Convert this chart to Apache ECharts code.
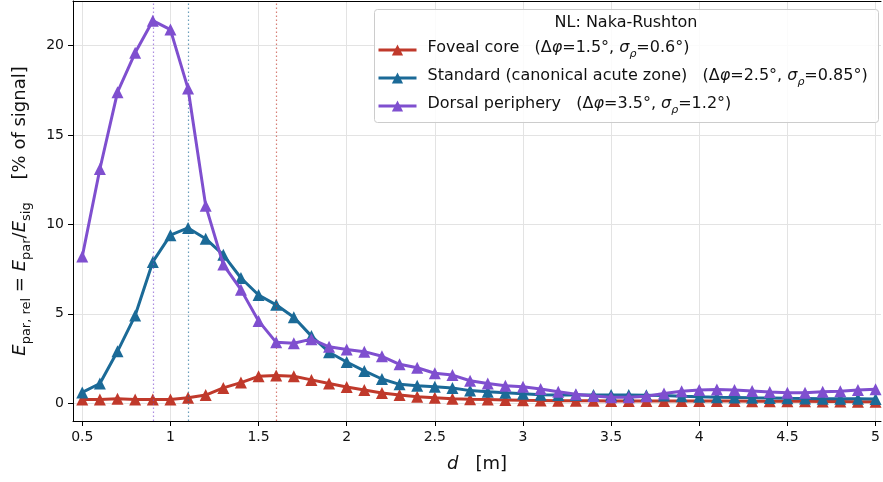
<!DOCTYPE html>
<html>
<head>
<meta charset="utf-8">
<script src="https://cdn.jsdelivr.net/npm/echarts@6/dist/echarts.min.js"></script>
<style>
  html, body { margin: 0; padding: 0; background: #fff; }
  #chart { width: 883px; height: 482px; }
</style>
</head>
<body>
<div id="chart"></div>
<script>
// distance d [m]
const dValues = [0.5, 0.6, 0.7, 0.8, 0.9, 1.0, 1.1, 1.2, 1.3, 1.4, 1.5, 1.6, 1.7, 1.8, 1.9, 2.0,
  2.1, 2.2, 2.3, 2.4, 2.5, 2.6, 2.7, 2.8, 2.9, 3.0, 3.1, 3.2, 3.3, 3.4, 3.5, 3.6, 3.7, 3.8, 3.9, 4.0,
  4.1, 4.2, 4.3, 4.4, 4.5, 4.6, 4.7, 4.8, 4.9, 5.0]

// E_par,rel in % of signal
const foveal = [0.2, 0.2, 0.25, 0.2, 0.2, 0.2, 0.3, 0.45, 0.85, 1.15, 1.5, 1.55, 1.5, 1.3, 1.1, 0.9,
  0.73, 0.57, 0.45, 0.36, 0.3, 0.25, 0.22, 0.2, 0.18, 0.16, 0.15, 0.14, 0.13, 0.13, 0.12, 0.12, 0.12, 0.12, 0.12, 0.12,
  0.12, 0.12, 0.11, 0.1, 0.1, 0.1, 0.09, 0.09, 0.08, 0.08]
const standard = [0.6, 1.1, 2.9, 4.9, 7.9, 9.4, 9.8, 9.2, 8.3, 7.0, 6.05, 5.5, 4.8, 3.75, 2.85, 2.3,
  1.8, 1.35, 1.05, 0.97, 0.91, 0.85, 0.7, 0.63, 0.58, 0.52, 0.47, 0.46, 0.45, 0.45, 0.45, 0.45, 0.44, 0.42, 0.38, 0.35,
  0.33, 0.32, 0.3, 0.29, 0.27, 0.26, 0.25, 0.24, 0.24, 0.23]
const dorsal = [8.2, 13.1, 17.4, 19.6, 21.4, 20.9, 17.6, 11.05, 7.75, 6.35, 4.6, 3.4, 3.35, 3.58, 3.15, 3.0,
  2.88, 2.62, 2.17, 1.98, 1.67, 1.57, 1.25, 1.1, 0.97, 0.91, 0.79, 0.64, 0.5, 0.4, 0.33, 0.33, 0.39, 0.54, 0.67, 0.73,
  0.76, 0.73, 0.68, 0.62, 0.58, 0.58, 0.63, 0.67, 0.73, 0.78]

// optimum distance per profile (dotted markers)
const peakD = [1.6, 1.1, 0.9]

const seriesNames = ['Foveal core', 'Standard (canonical acute zone)', 'Dorsal periphery']
const seriesParams = [['1.5', '0.6'], ['2.5', '0.85'], ['3.5', '1.2']]
const colors = ['#c0392b', '#1b6a97', '#7f4fcf']

const xTicks = [0.5, 1, 1.5, 2, 2.5, 3, 3.5, 4, 4.5, 5]
const yTicks = [0, 5, 10, 15, 20]

const font = 'DejaVu Sans'
const chart = echarts.init(document.getElementById('chart'))

function makeSeries (i, values) {
  return {
    name: seriesNames[i],
    type: 'line',
    data: dValues.map((d, k) => [d, values[k]]),
    symbol: 'triangle',
    symbolSize: 12,
    lineStyle: { width: 3, color: colors[i] },
    itemStyle: { color: colors[i] },
    z: 3 + i,
    animation: false,
    markLine: {
      silent: true,
      symbol: 'none',
      label: { show: false },
      lineStyle: { type: [1.5, 2.5], width: 1.2, color: colors[i], opacity: 0.65 },
      data: [{ xAxis: peakD[i] }]
    }
  }
}

const legendRich = {
  t: { fontFamily: font, fontSize: 16, color: '#111', verticalAlign: 'bottom', padding: [0, 0, 4, 0] },
  i: { fontFamily: font, fontSize: 16, color: '#111', fontStyle: 'italic', verticalAlign: 'bottom', padding: [0, 0, 4, 0] },
  s: { fontFamily: font, fontSize: 11, color: '#111', fontStyle: 'italic', verticalAlign: 'bottom' }
}

const axisRich = {
  e: { fontFamily: font, fontSize: 18, color: '#111', fontStyle: 'italic', verticalAlign: 'bottom', padding: [0, 0, 4, 0] },
  n: { fontFamily: font, fontSize: 18, color: '#111', verticalAlign: 'bottom', padding: [0, 0, 4, 0] },
  s: { fontFamily: font, fontSize: 13, color: '#111', verticalAlign: 'bottom' }
}

const option = {
  backgroundColor: '#fff',
  animation: false,
  grid: { left: 73, right: 0, top: 1, bottom: 61 },
  xAxis: [
    {
      type: 'value',
      min: 0.4474,
      max: 5.031,
      name: '{e|d}{n|   [m]}',
      nameLocation: 'middle',
      nameGap: 34,
      nameTextStyle: { rich: axisRich },
      axisLine: { onZero: false, lineStyle: { color: '#000', width: 1 } },
      axisTick: { customValues: xTicks, length: 5, lineStyle: { color: '#000' } },
      axisLabel: { customValues: xTicks, margin: 9, fontFamily: font, fontSize: 14, color: '#111' },
      splitLine: { show: true, lineStyle: { color: '#e3e3e3', width: 1 } }
    },
    {
      type: 'value',
      position: 'top',
      min: 0.4474,
      max: 5.031,
      axisLine: { show: true, onZero: false, lineStyle: { color: '#000', width: 1 } },
      axisTick: { show: false },
      axisLabel: { show: false },
      splitLine: { show: false }
    }
  ],
  yAxis: {
    type: 'value',
    min: -1,
    max: 22.5,
    name: '{e|E}{s|par, rel}{n| = }{e|E}{s|par}{n|/}{e|E}{s|sig}{n|    [% of signal]}',
    nameLocation: 'middle',
    nameRotate: 90,
    nameGap: 40,
    nameTextStyle: { rich: axisRich },
    axisLine: { show: true, onZero: false, lineStyle: { color: '#000', width: 1 } },
    axisTick: { customValues: yTicks, length: 5, lineStyle: { color: '#000' } },
    axisLabel: { customValues: yTicks, margin: 9, fontFamily: font, fontSize: 14, color: '#111' },
    splitLine: { show: true, lineStyle: { color: '#e3e3e3', width: 1 } }
  },
  legend: {
    orient: 'vertical',
    left: 372,
    top: 35,
    z: 20,
    itemWidth: 38,
    itemHeight: 14,
    itemGap: 8,
    data: seriesNames,
    lineStyle: { width: 3 },
    formatter: function (name) {
      const p = seriesParams[seriesNames.indexOf(name)]
      return '{t|' + name + '   (Δ}{i|φ}{t|=' + p[0] + '°, }{i|σ}{s|ρ}{t|=' + p[1] + '°)}'
    },
    textStyle: { rich: legendRich, padding: [0, 0, 0, 6] }
  },
  graphic: [
    {
      type: 'rect',
      z: 15,
      shape: { x: 374.5, y: 9.5, width: 504, height: 113, r: 3 },
      style: { fill: 'rgba(255,255,255,0.85)', stroke: '#cccccc', lineWidth: 1 }
    },
    {
      type: 'text',
      z: 16,
      x: 626,
      y: 23,
      style: {
        text: 'NL: Naka-Rushton',
        fontFamily: font,
        fontSize: 16,
        fill: '#111',
        align: 'center',
        verticalAlign: 'middle'
      }
    }
  ],
  series: [
    makeSeries(0, foveal),
    makeSeries(1, standard),
    makeSeries(2, dorsal)
  ]
}

chart.setOption(option)
</script>
</body>
</html>
